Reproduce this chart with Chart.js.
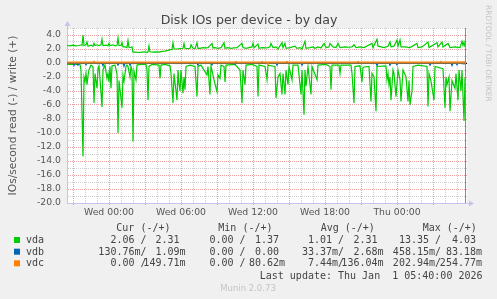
<!DOCTYPE html>
<html><head><meta charset="utf-8">
<script src="https://cdn.jsdelivr.net/npm/chart.js@4/dist/chart.umd.min.js"></script>
<style>html,body{margin:0;padding:0;background:#f0f0f0;overflow:hidden}canvas{display:block}</style>
</head><body>
<canvas id="c" width="497" height="299"></canvas>
<script>
// ---- data ----
const title = 'Disk IOs per device - by day';
const yTitle = 'IOs/second read (-) / write (+)';
const windowStart = 1230;   // Tue 20:30, in minutes since Tue 00:00
const windowLength = 2000;  // minutes shown
const lastUpdateMinute = 3220; // Thu 05:40
const dayNames = ['Tue', 'Wed', 'Thu'];
const devices = ['vda', 'vdb', 'vdc'];
const deviceColors = ['#00cc00', '#0066b3', '#ff8000'];

// [minutes since window start, IOs/s]
const vdaWrite = [[0,2.5],[15,2.45],[30,2.55],[45,2.45],[60,2.5],[70,2.6],[75,2.5],[80,4.0],[85,2.5],[95,2.6],[100,3.0],[105,2.4],[120,2.55],[130,2.4],[135,2.8],[140,2.5],[150,2.6],[160,2.5],[170,2.6],[175,3.4],[180,2.5],[195,2.55],[205,2.45],[210,2.8],[215,2.5],[230,2.6],[240,2.45],[250,2.5],[255,3.6],[260,2.5],[270,2.5],[275,2.9],[280,2.3],[290,2.3],[300,2.2],[305,3.2],[310,2.2],[320,2.25],[325,2.3],[330,1.55],[345,1.55],[360,1.5],[375,1.55],[390,1.6],[400,1.5],[405,1.6],[410,2.45],[415,1.6],[430,1.55],[445,1.6],[460,1.55],[475,1.65],[490,1.7],[505,1.8],[515,1.9],[525,1.9],[530,2.9],[535,2.0],[550,2.0],[565,2.05],[580,2.1],[585,2.8],[590,2.1],[605,2.05],[615,2.1],[620,2.6],[630,2.1],[640,2.05],[650,2.9],[655,2.1],[665,2.1],[680,2.2],[690,2.15],[705,2.2],[725,2.8],[730,2.15],[740,2.2],[755,2.1],[770,2.2],[785,2.9],[790,2.1],[805,2.2],[820,2.1],[835,2.15],[850,2.2],[875,2.8],[880,2.2],[895,2.1],[910,2.2],[925,2.3],[930,2.8],[935,2.2],[955,2.7],[960,2.1],[975,2.2],[990,2.15],[1005,2.2],[1015,2.3],[1020,2.8],[1030,2.2],[1045,2.3],[1055,2.0],[1075,2.9],[1080,2.2],[1090,2.8],[1095,2.1],[1115,2.2],[1140,2.4],[1150,2.1],[1165,2.2],[1175,2.0],[1190,3.1],[1195,2.1],[1215,2.2],[1230,2.3],[1240,2.1],[1255,2.3],[1270,2.15],[1285,2.8],[1295,2.2],[1310,2.3],[1315,2.8],[1330,2.3],[1345,2.2],[1355,2.8],[1365,2.2],[1390,2.3],[1410,2.25],[1425,2.3],[1435,2.6],[1445,2.2],[1465,2.3],[1485,2.2],[1525,2.8],[1530,2.2],[1550,3.4],[1555,2.4],[1570,2.3],[1585,2.2],[1605,2.4],[1615,3.0],[1620,2.3],[1635,2.4],[1650,3.3],[1655,2.4],[1665,3.3],[1670,2.3],[1690,2.3],[1715,2.2],[1750,2.8],[1755,2.2],[1775,2.3],[1805,3.0],[1810,2.2],[1850,2.9],[1855,2.3],[1875,3.0],[1880,2.3],[1905,2.8],[1915,2.2],[1940,2.3],[1965,2.2],[1975,3.1],[1980,2.5],[1985,3.0],[1990,2.31]];
const vdaRead = [[0,0.2],[65,0.2],[70,1.0],[80,13.35],[85,2.0],[90,2.6],[95,1.5],[100,3.1],[105,1.8],[110,1.0],[120,0.3],[130,0.5],[135,5.7],[140,1.5],[150,3.6],[155,0.8],[160,0.4],[170,4.2],[175,6.3],[180,1.0],[190,0.3],[200,2.2],[205,1.5],[210,2.7],[215,0.5],[220,3.6],[225,0.4],[240,0.3],[250,1.5],[255,10.0],[260,2.5],[275,6.4],[280,1.8],[285,2.6],[295,0.5],[300,0.3],[305,0.5],[315,2.0],[320,0.5],[325,1.0],[330,11.2],[335,1.2],[345,2.4],[350,0.3],[365,0.2],[395,0.2],[400,1.0],[405,5.3],[410,0.5],[425,0.2],[460,0.3],[465,2.2],[470,0.3],[490,0.2],[515,0.4],[520,1.5],[530,5.7],[535,1.5],[550,5.3],[555,1.0],[560,3.0],[565,4.0],[570,1.0],[580,4.3],[585,2.0],[590,3.8],[595,0.5],[615,0.3],[640,0.5],[650,4.8],[655,0.5],[670,0.3],[700,1.7],[705,0.5],[715,4.5],[720,0.4],[735,2.4],[750,4.1],[755,1.7],[765,2.2],[770,0.3],[785,0.5],[790,2.7],[795,0.3],[840,0.2],[865,1.0],[875,5.7],[880,1.0],[890,3.1],[895,0.3],[925,0.2],[950,0.5],[955,4.8],[960,0.3],[990,0.5],[1000,2.4],[1005,0.3],[1040,0.5],[1045,5.0],[1055,2.0],[1065,1.5],[1075,4.5],[1080,1.5],[1090,4.5],[1095,1.0],[1105,3.1],[1110,0.5],[1125,2.4],[1130,0.3],[1155,0.3],[1170,4.5],[1175,1.0],[1185,7.4],[1190,1.0],[1195,3.3],[1205,0.5],[1220,4.5],[1225,0.5],[1250,2.4],[1255,0.3],[1295,0.2],[1315,0.5],[1320,3.8],[1325,0.3],[1360,0.3],[1365,1.5],[1370,0.3],[1420,0.3],[1425,1.5],[1435,5.7],[1440,0.5],[1465,0.4],[1475,2.7],[1480,0.6],[1510,0.5],[1520,5.5],[1525,1.5],[1535,2.0],[1545,6.9],[1550,0.5],[1595,0.4],[1600,2.4],[1605,1.5],[1610,3.1],[1615,2.0],[1620,5.3],[1630,1.0],[1635,1.5],[1645,4.8],[1655,1.0],[1665,2.4],[1670,5.5],[1680,1.0],[1695,2.0],[1705,5.5],[1710,2.5],[1715,6.0],[1725,4.0],[1730,0.5],[1755,0.3],[1800,0.5],[1805,6.2],[1810,1.5],[1820,2.6],[1835,5.3],[1840,0.5],[1880,0.8],[1890,6.4],[1895,2.0],[1900,3.1],[1910,2.0],[1915,6.9],[1925,2.5],[1940,3.6],[1945,1.5],[1955,5.3],[1960,1.0],[1970,4.0],[1975,1.0],[1985,8.3],[1990,2.06]];
const vdbWrite = [[0,0.002],[1500,0.002],[1505,0.083],[1510,0.002],[1990,0.001]];
const vdbRead = [[0,0.02],[30,0.02],[35,0.35],[40,0.02],[50,0.02],[55,0.3],[60,0.02],[90,0.02],[95,0.25],[100,0.02],[175,0.02],[180,0.4],[185,0.02],[250,0.02],[255,0.3],[260,0.02],[280,0.02],[285,0.46],[290,0.02],[310,0.02],[315,0.3],[320,0.02],[650,0.02],[655,0.3],[660,0.02],[720,0.02],[725,0.25],[730,0.02],[835,0.02],[840,0.2],[845,0.02],[1045,0.02],[1050,0.3],[1055,0.02],[1170,0.02],[1175,0.3],[1180,0.02],[1545,0.02],[1550,0.35],[1555,0.02],[1610,0.02],[1615,0.3],[1620,0.02],[1645,0.02],[1650,0.25],[1655,0.02],[1810,0.02],[1815,0.3],[1820,0.02],[1920,0.02],[1925,0.35],[1930,0.02],[1945,0.02],[1950,0.25],[1955,0.02],[1990,0.13]];
const vdcWrite = [[0,0.13],[130,0.13],[135,0.25],[140,0.13],[840,0.13],[845,0.22],[850,0.13],[970,0.13],[975,0.22],[980,0.13],[1095,0.13],[1100,0.22],[1105,0.13],[1450,0.13],[1455,0.22],[1460,0.13],[1865,0.13],[1870,0.25],[1875,0.13],[1990,0.15]];
const vdcRead = [[0,0],[1000,0],[1005,0.2],[1010,0],[1990,0]];

// legend statistics (read / write)
const curRead = ['2.06', '130.76m', '0.00'];
const curWrite = ['2.31', '1.09m', '149.71m'];
const minRead = ['0.00', '0.00', '0.00'];
const minWrite = ['1.37', '0.00', '80.62m'];
const avgRead = ['1.01', '33.37m', '7.44m'];
const avgWrite = ['2.31', '2.68m', '136.04m'];
const maxRead = ['13.35', '458.15m', '202.94m'];
const maxWrite = ['4.03', '83.18m', '254.77m'];
const statHeaders = ['Cur (-/+)', 'Min (-/+)', 'Avg (-/+)', 'Max (-/+)'];
const lastUpdateText = 'Last update: Thu Jan  1 05:40:00 2026';
const footer = 'Munin 2.0.73';
const watermark = 'RRDTOOL / TOBI OETIKER';

// ---- styling ----
const SANS = '"DejaVu Sans", sans-serif';
const MONO = '"DejaVu Sans Mono", monospace';
const MAJOR = '#e9a0a0';
const MINOR = '#cfcfcf';
const AXIS = '#c4c4ee';
const TXT = '#555';

const pts = (pairs, sign) => pairs.map(p => ({x: windowStart + p[0], y: sign * p[1]}));
const ds = (label, pairs, sign, color, order) => ({
  label, data: pts(pairs, sign), borderColor: color, backgroundColor: color,
  borderWidth: 1.2, pointRadius: 0, tension: 0, fill: false, order
});

const pad2 = n => String(n).padStart(2, '0');

const deco = {
  id: 'deco',
  beforeDraw(chart) {
    const {ctx, chartArea: a} = chart;
    ctx.save();
    ctx.fillStyle = '#f0f0f0';
    ctx.fillRect(0, 0, chart.width, chart.height);
    ctx.fillStyle = '#ffffff';
    ctx.fillRect(a.left, a.top, a.right - a.left, a.bottom - a.top);
    ctx.restore();
  },
  beforeDatasetsDraw(chart) {
    const {ctx, chartArea: a, scales: {y}} = chart;
    const y0 = Math.round(y.getPixelForValue(0)) + 0.5;
    ctx.save();
    ctx.strokeStyle = '#000';
    ctx.lineWidth = 1;
    ctx.beginPath(); ctx.moveTo(a.left, y0); ctx.lineTo(a.right, y0); ctx.stroke();
    ctx.restore();
  },
  afterDatasetsDraw(chart) {
    const {ctx, chartArea: a, scales: {x}} = chart;
    ctx.save();
    // last update rule
    const xr = Math.round(x.getPixelForValue(lastUpdateMinute)) + 0.5;
    ctx.strokeStyle = '#8a8a8a';
    ctx.lineWidth = 1;
    ctx.beginPath(); ctx.moveTo(xr, a.top); ctx.lineTo(xr, a.bottom); ctx.stroke();
    // axis arrows
    const lx = Math.round(a.left) + 0.5, by = Math.round(a.bottom) + 0.5;
    ctx.strokeStyle = AXIS; ctx.fillStyle = AXIS;
    ctx.beginPath(); ctx.moveTo(lx, a.top); ctx.lineTo(lx, a.top - 3); ctx.stroke();
    ctx.beginPath(); ctx.moveTo(lx, a.top - 7); ctx.lineTo(lx - 3, a.top - 2); ctx.lineTo(lx + 3, a.top - 2); ctx.closePath(); ctx.fill();
    ctx.beginPath(); ctx.moveTo(a.right, by); ctx.lineTo(a.right + 3, by); ctx.stroke();
    ctx.beginPath(); ctx.moveTo(a.right + 7, by); ctx.lineTo(a.right + 2, by - 3); ctx.lineTo(a.right + 2, by + 3); ctx.closePath(); ctx.fill();
    ctx.restore();
  },
  afterDraw(chart) {
    const {ctx, chartArea: a} = chart;
    ctx.save();
    // title
    ctx.fillStyle = '#444';
    ctx.font = '12.6px ' + SANS;
    ctx.textAlign = 'center'; ctx.textBaseline = 'alphabetic';
    ctx.fillText(title, 249, 23.5);
    // y axis title
    ctx.save();
    ctx.translate(16, (a.top + a.bottom) / 2);
    ctx.rotate(-Math.PI / 2);
    ctx.fillStyle = TXT;
    ctx.font = '10.7px ' + SANS;
    ctx.textAlign = 'center'; ctx.textBaseline = 'alphabetic';
    ctx.fillText(yTitle, 0, 0);
    ctx.restore();
    // watermark
    ctx.save();
    ctx.translate(486, 5);
    ctx.rotate(Math.PI / 2);
    ctx.fillStyle = '#c4c4c4';
    ctx.font = '7.5px ' + SANS;
    ctx.textAlign = 'left'; ctx.textBaseline = 'alphabetic';
    ctx.fillText(watermark, 0, 0);
    ctx.restore();
    // legend table
    ctx.font = '10px ' + MONO;
    ctx.fillStyle = '#444';
    ctx.textBaseline = 'alphabetic';
    const headerX = [116.3, 218.3, 320.7, 422.7];
    ctx.textAlign = 'left';
    statHeaders.forEach((h, i) => ctx.fillText(h, headerX[i], 231));
    const slashX = [140.5, 239.5, 338, 435];
    const endX = [185.5, 285, 383.5, 482];
    const rowY = [243, 254.7, 266.3];
    const cols = [[curRead, curWrite], [minRead, minWrite], [avgRead, avgWrite], [maxRead, maxWrite]];
    const sfx = s => /[0-9]$/.test(s) ? s + ' ' : s;
    devices.forEach((d, r) => {
      const yb = rowY[r];
      ctx.fillStyle = deviceColors[r];
      ctx.fillRect(14, yb - 6, 6, 6);
      ctx.fillStyle = '#444';
      ctx.textAlign = 'left';
      ctx.fillText(d, 26, yb);
      cols.forEach(([rd, wr], c) => {
        ctx.textAlign = 'right';
        ctx.fillText(sfx(rd[r]), slashX[c], yb);
        ctx.textAlign = 'left';
        ctx.fillText('/', slashX[c], yb);
        ctx.textAlign = 'right';
        ctx.fillText(sfx(wr[r]), endX[c], yb);
      });
    });
    ctx.textAlign = 'right';
    ctx.fillText(lastUpdateText, 482.5, 278.5);
    ctx.textAlign = 'center';
    ctx.fillStyle = '#c4c4c4';
    ctx.font = '8.5px ' + SANS;
    ctx.fillText(footer, 248, 291);
    ctx.restore();
  }
};

new Chart(document.getElementById('c'), {
  type: 'line',
  data: {
    datasets: [
      ds('vda write', vdaWrite, 1, deviceColors[0], 6),
      ds('vda read', vdaRead, -1, deviceColors[0], 5),
      ds('vdb write', vdbWrite, 1, deviceColors[1], 4),
      ds('vdb read', vdbRead, -1, deviceColors[1], 3),
      ds('vdc read', vdcRead, -1, deviceColors[2], 2),
      ds('vdc write', vdcWrite, 1, deviceColors[2], 1)
    ]
  },
  options: {
    responsive: false,
    animation: false,
    devicePixelRatio: 1,
    layout: {padding: {top: 28, right: 30, bottom: 0, left: 0}},
    plugins: {legend: {display: false}, tooltip: {enabled: false}, title: {display: false}},
    scales: {
      x: {
        type: 'linear',
        min: windowStart,
        max: windowStart + windowLength,
        afterFit: s => { s.height = 96; },
        ticks: {
          stepSize: 60, autoSkip: false, maxRotation: 0, minRotation: 0, includeBounds: false,
          padding: 2, color: TXT, font: {family: SANS, size: 9.3},
          callback: v => {
            if (v % 360 !== 0) return '';
            const day = dayNames[Math.floor(v / 1440)];
            const m = v % 1440;
            return day + ' ' + pad2(Math.floor(m / 60)) + ':' + pad2(m % 60);
          }
        },
        grid: {
          color: c => (c.tick && c.tick.value % 180 === 0) ? MAJOR : MINOR,
          tickColor: c => (c.tick && c.tick.value % 180 === 0) ? MAJOR : 'rgba(0,0,0,0)',
          tickLength: 2, lineWidth: 1, drawTicks: true
        },
        border: {display: true, color: AXIS, dash: [1, 1]}
      },
      y: {
        min: -20, max: 5,
        afterFit: s => { s.width = 67; },
        ticks: {
          stepSize: 1, autoSkip: false, padding: 6, color: TXT, font: {family: SANS, size: 9.3},
          callback: v => (v % 2 === 0 && v <= 4) ? v.toFixed(1) : ''
        },
        grid: {
          color: c => (c.tick && c.tick.value % 2 === 0) ? MAJOR : MINOR,
          lineWidth: 1, drawTicks: false
        },
        border: {display: true, color: AXIS, dash: [1, 1]}
      }
    }
  },
  plugins: [deco]
});
</script>
</body></html>
